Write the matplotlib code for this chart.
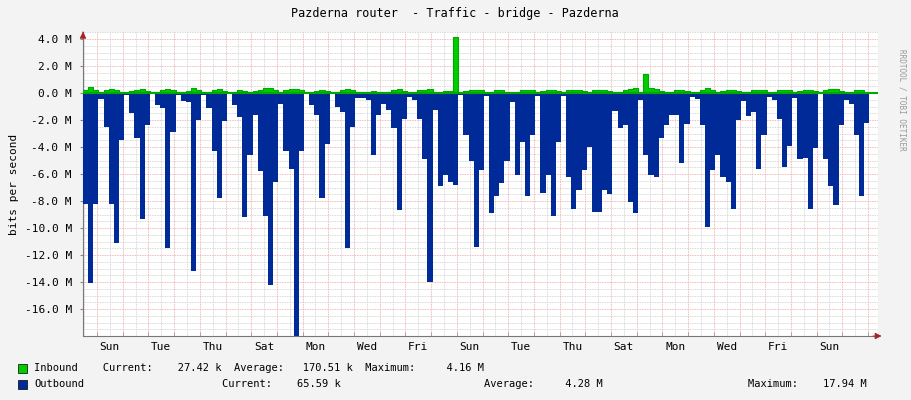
import numpy as np
import matplotlib
matplotlib.use("Agg")
import matplotlib.pyplot as plt
from matplotlib.ticker import MultipleLocator, FixedLocator

# values in Mbit/s, 0.2-day bins
outbound = [8.2,14.1,8.2,0.45,2.5,8.2,11.1,3.5,0.15,1.5,3.3,9.3,2.4,0,0.9,1.1,11.5,2.9,0.15,0.6,
            0.7,13.2,2.0,0.15,1.1,4.3,7.8,2.1,0.1,0.9,1.75,9.2,4.6,1.6,5.8,9.1,14.2,6.6,0.8,4.3,
            5.6,18.0,4.3,0.1,0.9,1.6,7.8,3.8,0.1,1.0,1.4,11.5,
            2.5,0.4,0.4,0.5,4.6,1.6,0.8,1.25,2.6,8.7,1.9,0.3,0.5,1.9,4.9,14.0,1.25,6.9,6.1,6.6,
            6.8,0.15,3.1,5.0,11.4,5.7,0.2,8.9,7.6,6.7,5.0,0.7,6.1,3.6,7.6,3.1,0.2,7.4,6.1,9.1,
            3.6,0.2,6.2,8.6,7.2,5.7,4.0,8.8,8.8,7.2,7.5,
            1.3,2.6,2.4,8.1,8.9,0.5,4.6,6.1,6.2,3.3,2.4,1.6,1.6,5.2,2.3,0.3,0.45,2.4,9.9,5.7,
            4.6,6.2,6.6,8.6,2.0,0.6,1.7,1.4,5.6,3.1,0.3,0.5,1.95,5.5,3.9,0.4,4.9,4.8,8.6,4.1,
            0.0,4.9,6.9,8.3,2.4,0.5,0.8,3.1,7.6,2.2]
inbound = [0.25,0.45,0.2,0.1,0.2,0.3,0.25,0.1,0.1,0.15,0.2,0.3,0.15,0.05,0.1,0.2,0.3,0.2,0.05,0.1,
           0.15,0.35,0.2,0.05,0.1,0.2,0.3,0.15,0.05,0.1,0.2,0.15,0.1,0.15,0.25,0.35,0.35,0.2,0.05,0.2,
           0.3,0.3,0.2,0.05,0.1,0.15,0.2,0.15,0.05,0.1,0.2,0.3,
           0.2,0.05,0.05,0.1,0.15,0.1,0.05,0.1,0.25,0.3,0.15,0.05,0.1,0.2,0.25,0.3,0.1,0.1,0.15,0.15,
           4.16,0.05,0.15,0.2,0.2,0.2,0.05,0.1,0.2,0.2,0.1,0.05,0.1,0.2,0.25,0.2,0.05,0.15,0.2,0.2,
           0.15,0.05,0.2,0.25,0.2,0.15,0.1,0.25,0.25,0.2,0.15,
           0.1,0.1,0.2,0.3,0.35,0.05,1.4,0.35,0.3,0.15,0.1,0.1,0.2,0.2,0.15,0.05,0.05,0.2,0.35,0.2,
           0.1,0.15,0.25,0.2,0.15,0.05,0.1,0.2,0.25,0.2,0.05,0.1,0.2,0.25,0.2,0.05,0.15,0.2,0.2,0.15,
           0.05,0.2,0.3,0.3,0.15,0.05,0.1,0.2,0.25,0.1]
day_labels = ["Sun","Tue","Thu","Sat","Mon","Wed","Fri","Sun","Tue","Thu","Sat","Mon","Wed","Fri","Sun"]
ytick_vals = [4,2,0,-2,-4,-6,-8,-10,-12,-14,-16]

mono = "DejaVu Sans Mono"
plt.rcParams['font.family'] = mono
fs = 7.5

fig = plt.figure(figsize=(9.11, 4.0), dpi=100)
fig.patch.set_facecolor("#f3f3f3")
ax = fig.add_axes([83/911, 64/400, 795/911, 304/400])
ax.set_facecolor("white")

n = len(outbound)
edges = np.arange(n + 1) * 0.2
xs = edges
out_v = -np.array(outbound + [outbound[-1]])
in_v = np.array(inbound + [inbound[-1]])
ax.fill_between(xs, out_v, 0, step="post", color="#002a97", lw=0, zorder=3)
ax.fill_between(xs, in_v, 0, step="post", color="#00cc00", lw=0, zorder=4)
ax.step(xs, in_v, where="post", color="#00aa00", lw=0.8, zorder=5)
ax.axhline(0, color="#00aa00", lw=1.5, zorder=5)

xmax = 795 / 25.7
ax.set_xlim(0, xmax)
ax.set_ylim(-18.0, 4.52)

mid0 = 14 / 25.7
majors = [mid0 + k for k in range(31) if mid0 + k < xmax]
minors = [mid0 + k + 0.5 for k in range(-1, 31) if 0 < mid0 + k + 0.5 < xmax]
for x in minors:
    ax.axvline(x, color="#cccccc", lw=0.6, ls=(0, (1, 1)), zorder=1)
for y in np.arange(-18, 4.6, 0.5):
    if abs(y % 2) > 1e-6:
        ax.axhline(y, color="#cccccc", lw=0.6, ls=(0, (1, 1)), zorder=1)
for x in majors:
    ax.axvline(x, color="#f0a0a0", lw=0.6, ls=(0, (1, 1)), zorder=2)
for y in ytick_vals:
    ax.axhline(y, color="#f0a0a0", lw=0.6, ls=(0, (1, 1)), zorder=2)

ax.xaxis.set_major_locator(FixedLocator([mid0 + 0.5 + 2 * k for k in range(len(day_labels))]))
ax.set_xticklabels(day_labels, fontsize=8)
ax.xaxis.set_minor_locator(FixedLocator(majors))
ax.tick_params(axis="x", which="major", length=0, pad=4)
ax.tick_params(axis="x", which="minor", length=3, color="#888888", direction="in")
ax.set_yticks(ytick_vals)
ax.set_yticklabels([f"{v:.1f} M" for v in ytick_vals], fontsize=8)
ax.tick_params(axis="y", length=2, color="#888888", pad=6)
for s in ["top", "right"]:
    ax.spines[s].set_visible(False)
for s in ["left", "bottom"]:
    ax.spines[s].set_color("#777777")
ax.set_ylabel("bits per second", fontsize=8)

ax.annotate("", xy=(1.008, 0), xycoords="axes fraction", xytext=(0.99, 0),
            arrowprops=dict(arrowstyle="-|>", color="#aa2222", lw=0.6))
ax.annotate("", xy=(0, 1.01), xycoords="axes fraction", xytext=(0, 0.99),
            arrowprops=dict(arrowstyle="-|>", color="#aa2222", lw=0.6))

fig.text(455/911, 1 - 14/400, "Pazderna router  - Traffic - bridge - Pazderna", ha="center", va="center", fontsize=8.5)
fig.text(902/911, 0.75, "RRDTOOL / TOBI OETIKER", rotation=270, ha="center", va="center", fontsize=5.5, color="#999999")

fig.patches.append(plt.Rectangle((18/911, 1 - 373/400), 9/911, 9/400, transform=fig.transFigure,
                                  facecolor="#00cc00", edgecolor="black", lw=0.5))
fig.patches.append(plt.Rectangle((18/911, 1 - 389/400), 9/911, 9/400, transform=fig.transFigure,
                                  facecolor="#002a97", edgecolor="black", lw=0.5))
fig.text(34/911, 1 - 368/400, "Inbound    Current:    27.42 k  Average:   170.51 k  Maximum:     4.16 M",
         va="center", fontsize=fs)
fig.text(34/911, 1 - 384/400, "Outbound", va="center", fontsize=fs)
fig.text(222/911, 1 - 384/400, "Current:    65.59 k", va="center", fontsize=fs)
fig.text(484/911, 1 - 384/400, "Average:     4.28 M", va="center", fontsize=fs)
fig.text(748/911, 1 - 384/400, "Maximum:    17.94 M", va="center", fontsize=fs)

fig.savefig("out.png", dpi=100, facecolor=fig.get_facecolor())
